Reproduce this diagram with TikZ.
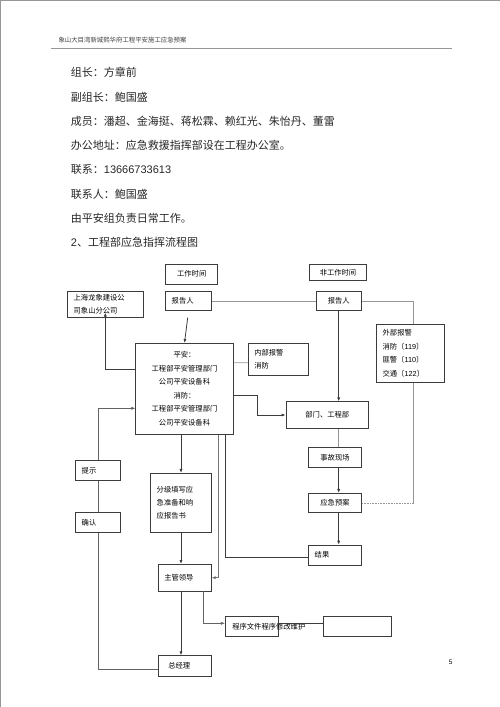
\documentclass[tikz,border=0pt]{standalone}
\usepackage{fontspec}
\setmainfont{Noto Sans CJK SC}
\newfontfamily\arial{Liberation Sans}
\usepackage{xcolor}
\usepackage{tikz}
\usetikzlibrary{arrows.meta}
\definecolor{edge}{RGB}{60,60,60}
\definecolor{pale}{RGB}{150,150,150}

\tikzset{
  box/.style={draw=edge, line width=0.7pt, inner sep=0pt, font=\fontsize{7.3}{13}\selectfont},
  lbox/.style={box, align=left, inner xsep=6pt},
  flow/.style={draw=edge, line width=0.8pt},
  go/.style={flow, -{Latex[length=4pt,width=3.2pt]}},
  thin/.style={draw=pale, line width=0.6pt}
}

\begin{document}
\begin{tikzpicture}[x=1pt,y=-1pt]

\useasboundingbox (0,0) rectangle (500,707);
\draw[pale, line width=1pt] (0,707) -- (0,0.5) -- (500,0.5);

% header
\node[anchor=west, font=\fontsize{6.4}{8}\selectfont, text=black!75] (title) at (55,40) {象山大目湾新城熙华府工程平安施工应急预案};
\draw[pale, line width=1pt] (51,48.3) -- (452,48.3);

% text lines
\begin{scope}[every node/.style={anchor=west, font=\fontsize{11}{14}\selectfont, text=black!85, inner sep=0pt}]
\node (t1) at (70.7,72.3) {组长：方章前};
\node (t2) at (70.7,97.3) {副组长：鲍国盛};
\node (t3) at (70.7,121.7) {成员：潘超、金海挺、蒋松霖、赖红光、朱怡丹、董雷};
\node (t4) at (70.7,145) {办公地址：应急救援指挥部设在工程办公室。};
\node (t5) at (70.7,169.3) {联系：{\arial 13666733613}};
\node (t6) at (70.7,194.3) {联系人：鲍国盛};
\node (t7) at (70.7,218.3) {由平安组负责日常工作。};
\node (t8) at (70.7,242.7) {{\arial 2}、工程部应急指挥流程图};
\end{scope}

% boxes
\node[box, minimum width=52pt, minimum height=19.7pt] (work) at (191.7,274.2) {工作时间};
\node[lbox, text width=33.6pt, minimum height=19.7pt] (repL) at (188.5,300.9) {报告人};
\node[box, minimum width=57.4pt, minimum height=16.4pt] (nonwork) at (338,272.5) {非工作时间};
\node[box, minimum width=45.3pt, minimum height=19.7pt] (repR) at (338.7,300.9) {报告人};
\node[lbox, text width=63.3pt, minimum height=26pt, font=\fontsize{7.3}{12.3}\selectfont] (company) at (105.3,304.3) {上海龙象建设公\\司象山分公司};
\node[box, minimum width=97.6pt, minimum height=91pt, align=center, font=\fontsize{7.3}{13.6}\selectfont] (main) at (184.5,388.8)
  {平安：\\工程部平安管理部门\\公司平安设备科\\消防：\\工程部平安管理部门\\公司平安设备科};
\node[lbox, text width=48.4pt, minimum height=32.4pt] (inner) at (278.5,359.5) {内部报警\\消防};
\node[lbox, text width=55.3pt, minimum height=58.3pt, font=\fontsize{7.3}{13.8}\selectfont] (ext) at (410.3,353.2)
  {外部报警\\消防〔{\arial 119}〕\\匪警〔{\arial 110}〕\\交通〔{\arial 122}〕};
\node[box, minimum width=82.7pt, minimum height=26.6pt] (dept) at (327.3,415) {部门、工程部};
\node[box, minimum width=52.6pt, minimum height=20pt] (scene) at (335,457.3) {事故现场};
\node[box, minimum width=52.6pt, minimum height=19.4pt] (plan) at (335,503) {应急预案};
\node[lbox, text width=40.6pt, minimum height=20pt] (result) at (335,555) {结果};
\node[lbox, text width=48.6pt, minimum height=59pt, font=\fontsize{7.3}{12.8}\selectfont] (fill) at (181,502.8) {分级填写应\\急准备和响\\应报告书};
\node[lbox, text width=41pt, minimum height=26.7pt] (lead) at (184.8,577.7) {主管领导};
\node[lbox, minimum height=20.3pt, inner xsep=10pt, text width=33pt] (gm) at (184.8,665.8) {总经理};
\node[lbox, minimum height=20pt, inner xsep=7pt, text width=39.4pt] (prog) at (252,626.7) {\makebox[0pt][l]{程序文件程序修改维护}};
\node[box, minimum width=68pt, minimum height=20pt] (blank) at (357.7,626.7) {};
\node[lbox, text width=33pt, minimum height=20pt] (hint) at (98.2,470.7) {提示};
\node[lbox, text width=33pt, minimum height=19.6pt] (confirm) at (98.2,522.5) {确认};

% connectors
\coordinate (bend) at ([xshift=3.4pt]ext.south |- plan.east);
\draw[go, shorten <=6.5pt] (repL.south) -- (main.north);
\draw[flow, draw=pale] (repL.east) -- (repR.west);
\draw[go] (repR.south) -- (dept.north -| repR.south);
\draw[flow, draw=pale] (repR.east) -| ([xshift=3.4pt]ext.north);
\draw[thin] ([xshift=3.4pt]ext.south) -- (bend);
\draw[thin, densely dotted] (bend) -- (plan.east);
\draw[go, shorten >=-5pt] ([yshift=19.8pt]main.west) -| (company.south);
\draw[thin] ([yshift=26pt]main.east) -- ([yshift=-3.2pt]inner.west);
\draw[go] ([yshift=-6.2pt]main.east) -- ++(23.4,0) |- (dept.west);
\draw[go] (main.south -| fill.north) -- (fill.north);
\draw[go] (fill.south) -- (fill.south |- lead.north);
\draw[go] (lead.south -| fill.south) -- (fill.south |- gm.north);
\draw[flow] ([xshift=41.2pt]main.south) |- ([yshift=-2.7pt]result.west);
\draw[thin, -{Latex[length=4pt,width=3.2pt]}, draw=edge!70] ([xshift=33.8pt]main.south) |- (lead.east);
\draw[thin] ([xshift=3.7pt]dept.south -| scene.north) -- ([xshift=3.7pt]scene.north);
\draw[go] ([xshift=3.7pt]scene.south) -- ([xshift=3.7pt]plan.north);
\draw[go] ([xshift=3.7pt]plan.south) -- ([xshift=3.7pt]result.north);
\draw[thin, draw=edge!80, -{Latex[length=4pt,width=3.2pt]}] ([xshift=18.5pt]lead.south) |- ([yshift=3.4pt]prog.west);
\draw[flow] ([yshift=3.4pt]prog.east) -- ([yshift=3.4pt]blank.west);
\draw[thin, draw=edge!80] ([yshift=-3.2pt]gm.west) -| (confirm.south);
\draw[thin, draw=edge!80] (confirm.north) -- (hint.south);
\draw[thin, draw=edge!80, -{Latex[length=4pt,width=3.2pt]}] (hint.north) |- ([yshift=-19.5pt]main.west);

% page number
\node[font=\arial\fontsize{6.5}{8}\selectfont] (page) at (450.7,662.3) {5};

\end{tikzpicture}
\end{document}
